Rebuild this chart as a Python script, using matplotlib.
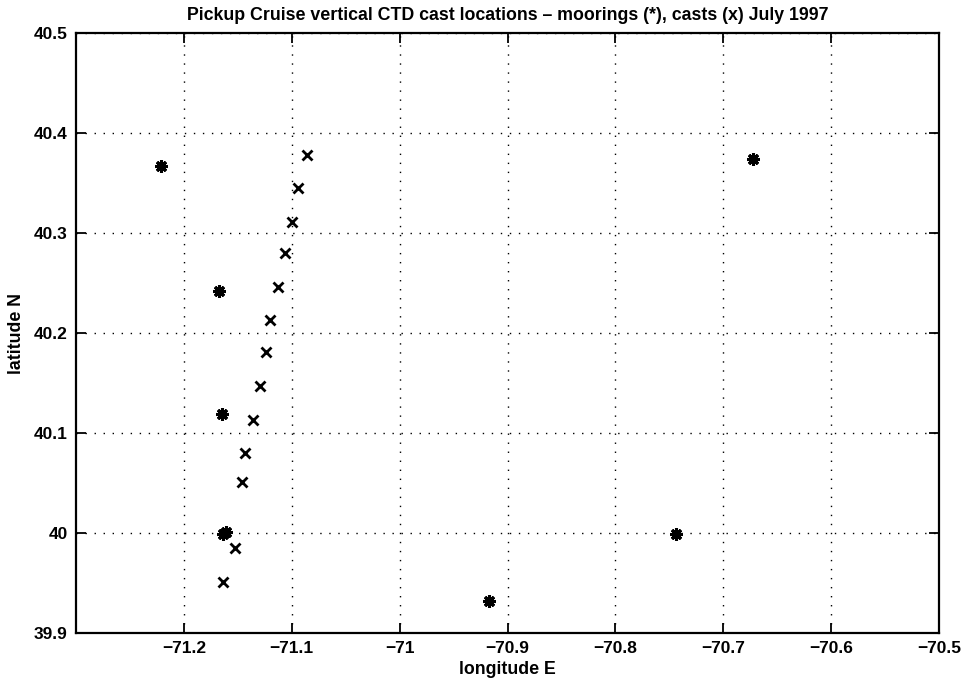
import matplotlib
matplotlib.use("Agg")
import matplotlib.pyplot as plt
from matplotlib.ticker import FixedLocator, FixedFormatter

plt.rcParams['font.family'] = ['Liberation Sans', 'DejaVu Sans']

# Moorings (*)
mooring_lon = [-71.221, -71.167, -71.165, -71.164, -71.161, -70.672, -70.917, -70.744]
mooring_lat = [40.367, 40.242, 40.119, 39.999, 40.001, 40.374, 39.932, 39.999]

# CTD casts (x)
cast_lon = [-71.086, -71.094, -71.100, -71.106, -71.113, -71.120, -71.124,
            -71.129, -71.136, -71.143, -71.146, -71.153, -71.164]
cast_lat = [40.378, 40.345, 40.311, 40.280, 40.246, 40.213, 40.181,
            40.147, 40.113, 40.080, 40.051, 39.985, 39.951]

xticks = [-71.2, -71.1, -71.0, -70.9, -70.8, -70.7, -70.6, -70.5]
xticklabels = ['\u221271.2', '\u221271.1', '\u221271', '\u221270.9', '\u221270.8',
               '\u221270.7', '\u221270.6', '\u221270.5']
yticks = [39.9, 40.0, 40.1, 40.2, 40.3, 40.4, 40.5]
yticklabels = ['39.9', '40', '40.1', '40.2', '40.3', '40.4', '40.5']

title = 'Pickup Cruise vertical CTD cast locations \u2013 moorings (*), casts (x) July 1997'
xlabel = 'longitude E'
ylabel = 'latitude N'

fig = plt.figure(figsize=(9.61, 6.81), dpi=100)
ax = fig.add_axes([76 / 961, 1 - 633 / 681, (939 - 76) / 961, (633 - 33) / 681])

ax.plot(mooring_lon, mooring_lat, linestyle='none', marker=(8, 2, 0),
        markersize=9, markeredgewidth=2.2, color='black')
ax.plot(cast_lon, cast_lat, linestyle='none', marker='x',
        markersize=7, markeredgewidth=2.0, color='black')

ax.set_xlim(-71.3, -70.5)
ax.set_ylim(39.9, 40.5)

ax.xaxis.set_major_locator(FixedLocator(xticks))
ax.xaxis.set_major_formatter(FixedFormatter(xticklabels))
ax.yaxis.set_major_locator(FixedLocator(yticks))
ax.yaxis.set_major_formatter(FixedFormatter(yticklabels))

ax.tick_params(direction='in', length=7, width=1.3, top=True, right=True,
               labelsize=12.5, pad=6, colors='black')
for lab in ax.get_xticklabels() + ax.get_yticklabels():
    lab.set_fontweight('bold')

for s in ax.spines.values():
    s.set_linewidth(1.6)
    s.set_color('black')

ax.grid(True, color='black', linestyle=(0, (1, 5.5)), linewidth=1.0)

ax.set_title(title, fontsize=12.8, fontweight='bold', pad=9)
ax.set_xlabel(xlabel, fontsize=12.8, fontweight='bold', labelpad=3)
ax.set_ylabel(ylabel, fontsize=12.8, fontweight='bold', labelpad=6)

fig.savefig('out.png', dpi=100)
